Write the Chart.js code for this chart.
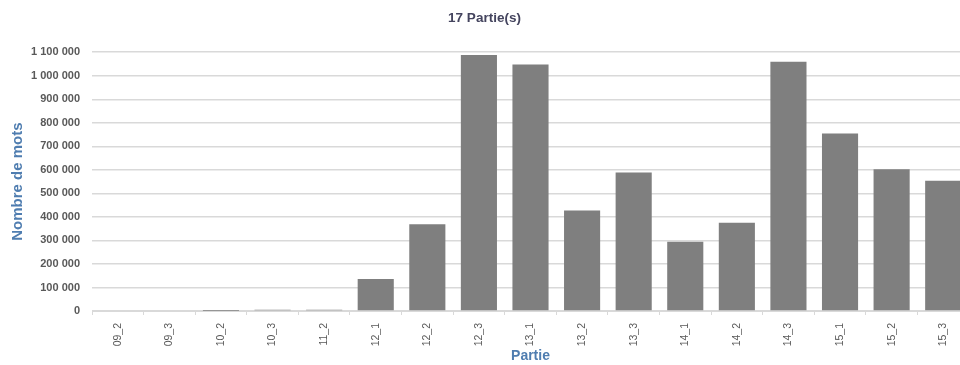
<!DOCTYPE html>
<html>
<head>
<meta charset="utf-8">
<script src="https://cdn.jsdelivr.net/npm/chart.js@4"></script>
<style>
  html, body { margin: 0; padding: 0; background: #fff; overflow: hidden; }
  #wrap { width: 969px; height: 365px; }
</style>
</head>
<body>
<div id="wrap"><canvas id="partieChart"></canvas></div>
<script>
// Nombre de mots par partie
const parties = ['09_2', '09_3', '10_2', '10_3', '11_2', '12_1', '12_2', '12_3', '13_1',
                 '13_2', '13_3', '14_1', '14_2', '14_3', '15_1', '15_2', '15_3'];
const nbMots = [0, 0, 500, 5000, 5000, 136000, 369000, 1088000, 1048000,
                427000, 589000, 294000, 375000, 1059000, 754000, 603000, 554000];
const yTicks = [0, 100000, 200000, 300000, 400000, 500000, 600000, 700000, 800000, 900000, 1000000, 1100000];

const fmt = v => String(v).replace(/\B(?=(\d{3})+(?!\d))/g, ' ');

document.addEventListener('DOMContentLoaded', function () {
    const ctx = document.getElementById('partieChart').getContext('2d');

    new Chart(ctx, {
        type: 'bar',
        data: {
            labels: parties,
            datasets: [{
                data: nbMots,
                backgroundColor: '#7f7f7f',
                borderWidth: 0,
                barPercentage: 0.7,
                categoryPercentage: 1
            }]
        },
        options: {
            responsive: true,
            maintainAspectRatio: false,
            animation: false,
            layout: { padding: 0 },
            plugins: {
                legend: { display: false },
                tooltip: { enabled: false },
                title: {
                    display: true,
                    text: '17 Partie(s)',
                    color: '#44445e',
                    font: { family: 'Liberation Sans', size: 13.5, weight: 'bold' },
                    padding: { top: 10, bottom: 26 }
                }
            },
            scales: {
                x: {
                    grid: {
                        drawOnChartArea: false,
                        drawTicks: true,
                        tickLength: 4,
                        color: '#d9d9d9'
                    },
                    border: { color: '#d9d9d9', width: 1 },
                    ticks: {
                        color: '#595959',
                        font: { family: 'Liberation Sans', size: 10.5 },
                        minRotation: 90,
                        maxRotation: 90,
                        padding: 8,
                        autoSkip: false
                    },
                    title: {
                        display: true,
                        text: 'Partie',
                        color: '#4f7db0',
                        font: { family: 'Liberation Sans', size: 14, weight: 'bold' },
                        padding: { top: 0, bottom: 0 }
                    },
                    afterFit: scale => { scale.height = 54; }
                },
                y: {
                    min: 0,
                    max: 1100000,
                    afterBuildTicks: scale => { scale.ticks = yTicks.map(v => ({ value: v })); },
                    grid: {
                        color: '#d9d9d9',
                        lineWidth: 1.5,
                        drawTicks: false
                    },
                    border: { display: false },
                    ticks: {
                        color: '#595959',
                        font: { family: 'Liberation Sans', size: 11, weight: 'bold' },
                        padding: 12,
                        callback: v => fmt(v)
                    },
                    title: {
                        display: true,
                        text: 'Nombre de mots',
                        color: '#4f7db0',
                        font: { family: 'Liberation Sans', size: 15, weight: 'bold' },
                        padding: { top: 9, bottom: 0 }
                    },
                    afterFit: scale => { scale.width = 92; }
                }
            }
        }
    });
});
</script>
</body>
</html>
